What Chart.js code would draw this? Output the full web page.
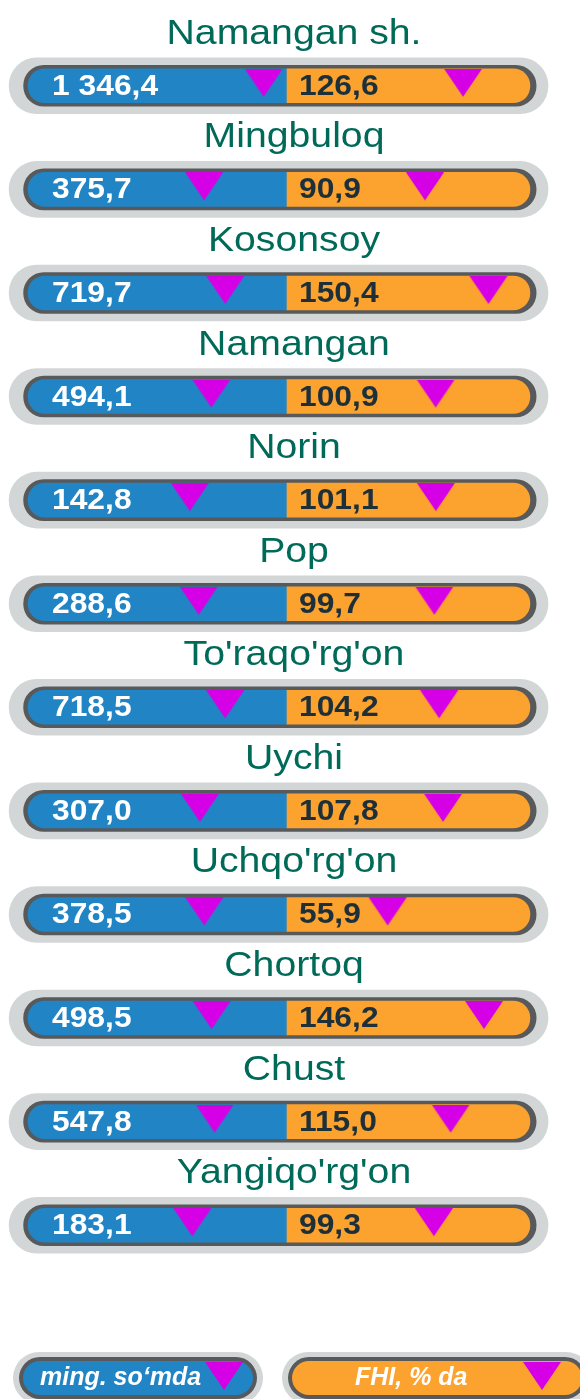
<!DOCTYPE html>
<html>
<head>
<meta charset="utf-8">
<script src="https://cdn.jsdelivr.net/npm/chart.js@4/dist/chart.umd.min.js"></script>
<style>
  html, body { margin: 0; padding: 0; background: #ffffff; }
  #wrap { width: 580px; height: 1399px; position: relative; }
</style>
</head>
<body>
<div id="wrap"><canvas id="chart" width="580" height="1399"></canvas></div>
<script>
// Districts of Namangan region, top to bottom
const districts = [
  'Namangan sh.', 'Mingbuloq', 'Kosonsoy', 'Namangan', 'Norin', 'Pop',
  "To'raqo'rg'on", 'Uychi', "Uchqo'rg'on", 'Chortoq', 'Chust', "Yangiqo'rg'on"
];
// Volume, thousand so'm
const amounts = [1346.4, 375.7, 719.7, 494.1, 142.8, 288.6, 718.5, 307.0, 378.5, 498.5, 547.8, 183.1];
// Growth rate, % (FHI)
const fhiPercent = [126.6, 90.9, 150.4, 100.9, 101.1, 99.7, 104.2, 107.8, 55.9, 146.2, 115.0, 99.3];
// Legend captions
const legendLabels = ['ming. so‘mda', 'FHI, % da'];

// Colours
const C = {
  halo: '#d3d6d7',
  ring: '#58595b',
  blue: '#2184c4',
  orange: '#fca22e',
  marker: '#d600e6',
  title: '#006a58',
  dark: '#1d3039'
};

// Track geometry in units of the track scale: blue half is [0,1], orange half is [1,END]
const TRACK_END = 1.938;
const HALO = [-0.073, 2.008];
const RING = [-0.017, 1.962];

const fmt = v => {
  const [i, d] = v.toFixed(1).split('.');
  return i.replace(/\B(?=(\d{3})+(?!\d))/g, ' ') + ',' + d;
};

// Downward pointing marker used for both gauges
function makeMarker() {
  const c = document.createElement('canvas');
  c.width = 40; c.height = 34;
  const g = c.getContext('2d');
  g.fillStyle = C.marker;
  g.beginPath();
  g.moveTo(1, 0); g.lineTo(39, 0); g.lineTo(20, 28); g.closePath();
  g.fill();
  return c;
}
const marker = makeMarker();

function roundRect(ctx, x, y, w, h, r) {
  ctx.beginPath();
  ctx.moveTo(x + r, y);
  ctx.lineTo(x + w - r, y);
  ctx.arc(x + w - r, y + r, r, -Math.PI / 2, Math.PI / 2);
  ctx.lineTo(x + r, y + h);
  ctx.arc(x + r, y + r, r, Math.PI / 2, Math.PI * 1.5);
  ctx.closePath();
}

function stretchedText(ctx, text, x, y, sx) {
  ctx.save();
  ctx.translate(x, y);
  ctx.scale(sx, 1);
  ctx.fillText(text, 0, 0);
  ctx.restore();
}

// Titles and value captions over each capsule
const captions = {
  id: 'captions',
  afterDatasetsDraw(chart) {
    const ctx = chart.ctx;
    const xs = chart.scales.x, ys = chart.scales.y;
    districts.forEach((name, i) => {
      const cy = ys.getPixelForValue(i);
      ctx.save();
      ctx.fillStyle = C.title;
      ctx.font = '35px "Liberation Sans", Arial, sans-serif';
      ctx.textBaseline = 'alphabetic';
      const w = ctx.measureText(name).width * 1.12;
      stretchedText(ctx, name, chart.width / 2 + 4 - w / 2, cy - 42, 1.12);

      ctx.font = 'bold 30px "Liberation Sans", Arial, sans-serif';
      ctx.fillStyle = '#ffffff';
      stretchedText(ctx, fmt(amounts[i]), xs.getPixelForValue(0) + 24, cy + 9, 1.06);
      ctx.fillStyle = C.dark;
      stretchedText(ctx, fmt(fhiPercent[i]), xs.getPixelForValue(1) + 12, cy + 9, 1.06);
      ctx.restore();
    });
  },
  afterDraw(chart) {
    // Legend capsules at the bottom
    const ctx = chart.ctx;
    const items = [
      { x0: 13, x1: 263, fill: C.blue, text: legendLabels[0], tx: 40, mx: 224 },
      { x0: 282, x1: 592, fill: C.orange, text: legendLabels[1], tx: 355, mx: 542 }
    ];
    const cy = 1378;
    items.forEach(it => {
      ctx.save();
      ctx.fillStyle = C.halo;
      roundRect(ctx, it.x0, cy - 26, it.x1 - it.x0, 52, 26); ctx.fill();
      ctx.fillStyle = C.ring;
      roundRect(ctx, it.x0 + 6, cy - 21, it.x1 - it.x0 - 12, 42, 21); ctx.fill();
      ctx.fillStyle = it.fill;
      roundRect(ctx, it.x0 + 10, cy - 17, it.x1 - it.x0 - 20, 34, 17); ctx.fill();
      ctx.fillStyle = '#ffffff';
      ctx.font = 'italic bold 25px "Liberation Sans", Arial, sans-serif';
      ctx.textBaseline = 'alphabetic';
      ctx.fillText(it.text, it.tx, cy + 7);
      ctx.drawImage(marker, it.mx - 20, cy - 16);
      ctx.restore();
    });
  }
};

const rows = districts.map(() => null);
const span = r => rows.map(() => r.slice());

new Chart(document.getElementById('chart'), {
  type: 'bar',
  data: {
    labels: districts,
    datasets: [
      {
        label: 'halo', data: span(HALO), backgroundColor: C.halo,
        barThickness: 56, borderRadius: 28, borderSkipped: false, grouped: false, order: 5
      },
      {
        label: 'ring', data: span(RING), backgroundColor: C.ring,
        barThickness: 41, borderRadius: 20.5, borderSkipped: false, grouped: false, order: 4
      },
      {
        label: legendLabels[0], data: span([0, 1]), backgroundColor: C.blue,
        barThickness: 34, borderSkipped: false, grouped: false, order: 3,
        borderRadius: { topLeft: 17, bottomLeft: 17, topRight: 0, bottomRight: 0 }
      },
      {
        label: legendLabels[1], data: span([1, TRACK_END]), backgroundColor: C.orange,
        barThickness: 34, borderSkipped: false, grouped: false, order: 2,
        borderRadius: { topLeft: 0, bottomLeft: 0, topRight: 17, bottomRight: 17 }
      },
      {
        type: 'scatter', label: 'amount marker',
        data: amounts.map((v, i) => ({ x: v, y: districts[i] })),
        xAxisID: 'xAmount', yAxisID: 'y',
        pointStyle: marker, pointRadius: 20, order: 1, clip: false
      },
      {
        type: 'scatter', label: 'fhi marker',
        data: fhiPercent.map((v, i) => ({ x: v, y: districts[i] })),
        xAxisID: 'xFhi', yAxisID: 'y',
        pointStyle: marker, pointRadius: 20, order: 0, clip: false
      }
    ]
  },
  options: {
    indexAxis: 'y',
    responsive: false,
    animation: false,
    events: [],
    layout: { autoPadding: false, padding: { top: 34, bottom: 122, left: 0, right: 0 } },
    plugins: { legend: { display: false }, tooltip: { enabled: false } },
    scales: {
      x: { type: 'linear', min: -0.1081, max: 2.1313, display: false },
      xAmount: { type: 'linear', axis: 'x', min: -2948, max: 6498, display: false },
      xFhi: { type: 'linear', axis: 'x', min: -307.4, max: 236.2, display: false },
      y: { type: 'category', display: false, offset: true }
    }
  },
  plugins: [captions]
});
</script>
</body>
</html>
